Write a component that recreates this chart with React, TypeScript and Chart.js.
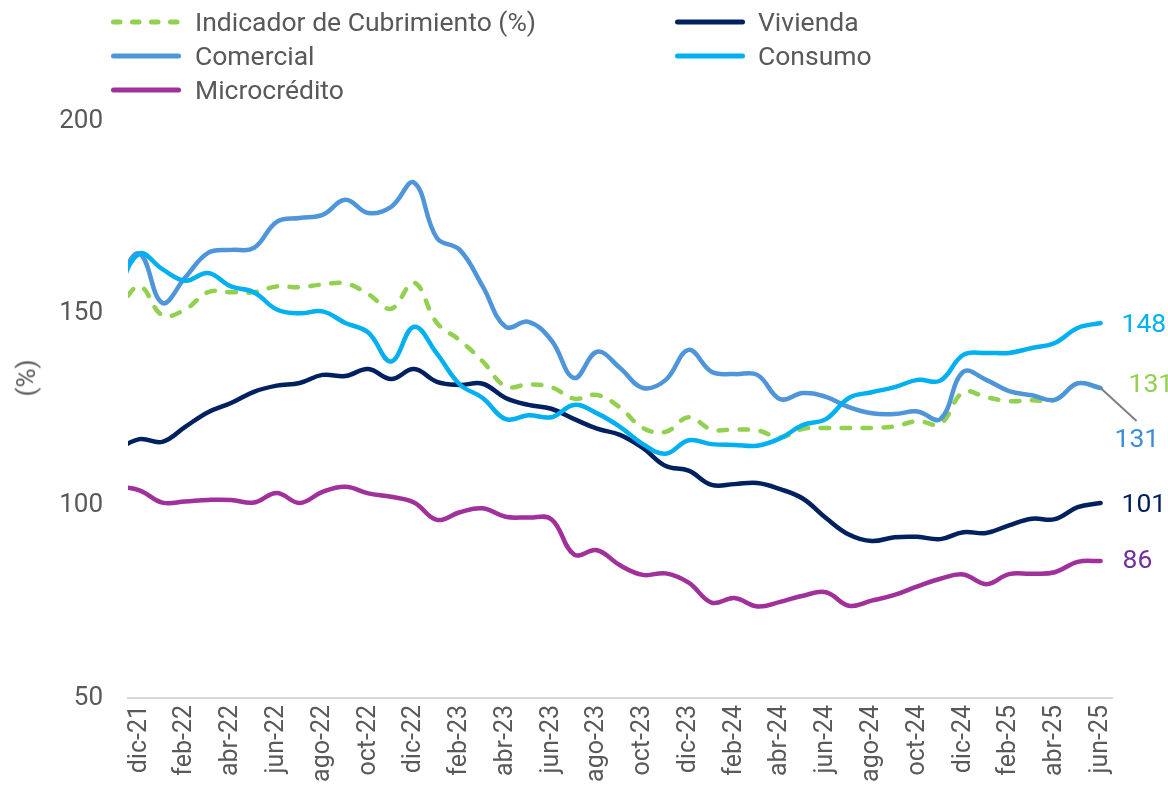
import React, { useEffect, useRef } from 'react';
import { Chart, registerables } from 'chart.js';

Chart.register(...registerables);

// Months (nov-21 is only partly visible, clipped at the left edge of the plot)
const months = [
  'nov-21', 'dic-21', 'ene-22', 'feb-22', 'mar-22', 'abr-22', 'may-22', 'jun-22', 'jul-22', 'ago-22', 'sep-22', 'oct-22',
  'nov-22', 'dic-22', 'ene-23', 'feb-23', 'mar-23', 'abr-23', 'may-23', 'jun-23', 'jul-23', 'ago-23', 'sep-23', 'oct-23',
  'nov-23', 'dic-23', 'ene-24', 'feb-24', 'mar-24', 'abr-24', 'may-24', 'jun-24', 'jul-24', 'ago-24', 'sep-24', 'oct-24',
  'nov-24', 'dic-24', 'ene-25', 'feb-25', 'mar-25', 'abr-25', 'may-25', 'jun-25',
];

const indicador = [
  150, 157, 149.5, 151, 155.5, 155.5, 155.5, 157, 156.8, 157.5, 157.8, 155,
  151.2, 158, 147.5, 143, 137.5, 131, 131.5, 130.8, 127.8, 128.8, 125.5, 120.2,
  119.2, 123, 119.8, 119.8, 119.6, 117.8, 120, 120.2, 120.2, 120.2, 120.6, 122,
  121.3, 129.5, 128.2, 127.2, 127.4, 127.5, 131.8, 130.6,
];

const vivienda = [
  114.5, 117.3, 116.6, 120.5, 124.3, 126.7, 129.6, 131.2, 131.9, 134, 133.7, 135.5,
  132.9, 135.5, 132.2, 131.4, 131.7, 128, 126.2, 125.2, 122.5, 120, 118.4, 115,
  110.3, 109.1, 105.4, 105.6, 105.9, 104.3, 101.8, 96.8, 92.5, 90.8, 91.8, 91.9,
  91.3, 93.1, 92.9, 94.9, 96.6, 96.5, 99.6, 100.7,
];

const comercial = [
  158, 165.5, 152.7, 159.3, 165.7, 166.5, 167, 173.8, 174.8, 175.6, 179.5, 176.1,
  177.7, 184, 169.6, 166.5, 157, 146.5, 147.8, 143, 133.2, 140, 135.8, 130.6,
  132.7, 140.5, 134.8, 134.2, 134, 127.7, 129.3, 128.3, 125.6, 124, 123.8, 124.5,
  122.5, 134.8, 132.7, 129.8, 128.7, 127.5, 131.8, 130.6,
];

const consumo = [
  155, 165.5, 161.5, 158.5, 160.5, 157, 155.5, 151, 150, 150.5, 147.5, 145,
  137.5, 146.5, 139.5, 131.5, 128, 122.5, 123.5, 123, 126.2, 124, 120.5, 116,
  113.5, 117, 116, 115.8, 115.6, 117.5, 121, 122.5, 128, 129.5, 130.8, 132.7,
  132.5, 139.2, 139.7, 139.7, 141, 142.3, 146.2, 147.5,
];

const microcredito = [
  105, 104, 100.8, 101.1, 101.5, 101.5, 100.8, 103.3, 100.7, 103.6, 104.9, 103.2,
  102.3, 100.8, 96.3, 98.3, 99.3, 97.1, 96.9, 96.5, 87.3, 88.4, 84.5, 82,
  82.4, 80, 74.8, 76, 73.8, 75, 76.6, 77.5, 74, 75.3, 76.8, 79,
  81, 82.1, 79.6, 82.2, 82.3, 82.7, 85.4, 85.6,
];

const yTicks = [50, 100, 150, 200];
const firstVisibleMonth = 'dic-21';
const yTitle = '(%)';

const FONT = 'Roboto';
const TEXT = '#595959';

type Series = {
  name: string;
  data: number[];
  color: string;
  labelColor: string;
  dashed?: boolean;
  dx: number;
  dy: number;
  leader?: boolean;
};

const series: Series[] = [
  { name: 'Indicador de Cubrimiento (%)', data: indicador, color: '#92d050', labelColor: '#92d050', dashed: true, dx: 28, dy: -3 },
  { name: 'Vivienda', data: vivienda, color: '#002060', labelColor: '#002060', dx: 21, dy: 2 },
  { name: 'Comercial', data: comercial, color: '#4f95da', labelColor: '#3f8bd8', dx: 14, dy: 52, leader: true },
  { name: 'Consumo', data: consumo, color: '#00b0f0', labelColor: '#00b0f0', dx: 21, dy: 2 },
  { name: 'Microcrédito', data: microcredito, color: '#a0309a', labelColor: '#7030a0', dx: 22, dy: 0 },
];

const endLabelsPlugin = {
  id: 'endLabels',
  afterDatasetsDraw(chart: any) {
    const ctx = chart.ctx;
    ctx.save();
    series.forEach((s, i) => {
      const meta = chart.getDatasetMeta(i);
      const pt = meta.data[meta.data.length - 1];
      if (!pt) return;
      const x = pt.x;
      const y = pt.y;
      if (s.leader) {
        ctx.strokeStyle = '#7f7f7f';
        ctx.lineWidth = 2;
        ctx.beginPath();
        ctx.moveTo(x, y);
        ctx.lineTo(x + 36, y + 33);
        ctx.stroke();
      }
      ctx.fillStyle = s.labelColor;
      ctx.font = `26.5px ${FONT}`;
      ctx.textAlign = 'left';
      ctx.textBaseline = 'middle';
      ctx.fillText(String(Math.round(s.data[s.data.length - 1])), x + s.dx, y + s.dy);
    });
    ctx.restore();
  },
};

function LegendSample({ color, dashed }: { color: string; dashed?: boolean }) {
  return (
    <svg width={70} height={10} style={{ display: 'block' }}>
      <line
        x1={2.5}
        y1={5}
        x2={67.5}
        y2={5}
        stroke={color}
        strokeWidth={5}
        strokeLinecap="round"
        strokeDasharray={dashed ? '6.5 12.5' : undefined}
      />
    </svg>
  );
}

export default function App() {
  const canvasRef = useRef<HTMLCanvasElement | null>(null);

  useEffect(() => {
    const canvas = canvasRef.current;
    if (!canvas) return;
    const chart = new Chart(canvas, {
      type: 'line',
      data: {
        labels: months,
        datasets: series.map((s, i) => ({
          label: s.name,
          data: s.data,
          borderColor: s.color,
          backgroundColor: s.color,
          borderWidth: 4.5,
          borderDash: s.dashed ? [8.5, 12.5] : [],
          borderCapStyle: 'round',
          borderJoinStyle: 'round',
          pointRadius: 0,
          pointHoverRadius: 0,
          tension: 0.4,
          fill: false,
          order: series.length - i,
        })),
      },
      options: {
        responsive: false,
        animation: false,
        events: [],
        layout: { padding: { top: 121, right: 56, left: 0, bottom: 0 } },
        plugins: {
          legend: { display: false },
          tooltip: { enabled: false },
          title: { display: false },
        },
        scales: {
          x: {
            type: 'category',
            min: firstVisibleMonth,
            offset: true,
            grid: { display: false, drawTicks: false },
            border: { display: true, color: '#d9d9d9', width: 2 },
            ticks: {
              autoSkip: false,
              maxRotation: 90,
              minRotation: 90,
              padding: 7,
              color: TEXT,
              font: { family: FONT, size: 25 },
              callback: function (this: any, value: any, index: number) {
                return index % 2 === 0 ? this.getLabelForValue(value) : '';
              },
            },
            afterFit: (scale: any) => {
              scale.height = 96;
            },
          },
          y: {
            min: yTicks[0],
            max: yTicks[yTicks.length - 1],
            grid: { display: false, drawTicks: false },
            border: { display: false },
            ticks: {
              stepSize: yTicks[1] - yTicks[0],
              padding: 25,
              color: TEXT,
              font: { family: FONT, size: 26 },
            },
            afterFit: (scale: any) => {
              scale.width = 128;
            },
          },
        },
      },
      plugins: [endLabelsPlugin],
    });
    return () => chart.destroy();
  }, []);

  const colX = [{ sample: 111, text: 195 }, { sample: 675, text: 758 }];

  return (
    <div style={{ position: 'absolute', left: 0, top: 0, width: 1168, height: 794, background: '#fff', overflow: 'hidden' }}>
      <canvas ref={canvasRef} width={1168} height={794} style={{ position: 'absolute', left: 0, top: 0, width: 1168, height: 794 }} />
      {series.map((s, k) => {
        const col = colX[k % 2];
        const rowY = 22 + 34 * Math.floor(k / 2);
        return (
          <React.Fragment key={s.name}>
            <div style={{ position: 'absolute', left: col.sample, top: rowY - 5 }}>
              <LegendSample color={s.color} dashed={s.dashed} />
            </div>
            <div
              style={{
                position: 'absolute',
                left: col.text,
                top: rowY - 15,
                height: 30,
                lineHeight: '30px',
                fontFamily: FONT,
                fontSize: 26.5,
                color: TEXT,
                whiteSpace: 'nowrap',
              }}
            >
              {s.name}
            </div>
          </React.Fragment>
        );
      })}
      <div
        style={{
          position: 'absolute',
          left: 26,
          top: 378,
          transform: 'translate(-50%, -50%) rotate(-90deg)',
          fontFamily: FONT,
          fontSize: 26,
          color: TEXT,
          whiteSpace: 'nowrap',
          lineHeight: '30px',
        }}
      >
        {yTitle}
      </div>
    </div>
  );
}
